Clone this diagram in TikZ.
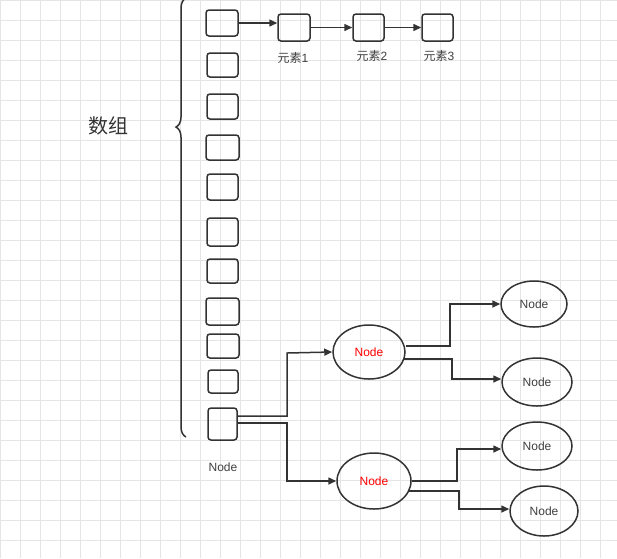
\documentclass[tikz,border=0pt]{standalone}
\usepackage{fontspec}
\setmainfont{Liberation Sans}
\newfontfamily\cjk{Noto Sans CJK SC}
\usetikzlibrary{decorations.pathreplacing,arrows.meta,shapes.geometric}
\begin{document}
\begin{tikzpicture}[x=1pt,y=-1pt,
  bx/.style={draw=black!80,line width=1.5pt,rounded corners=3pt,inner sep=0pt},
  el/.style={draw=black!80,line width=1.5pt,ellipse,inner sep=0pt,font=\fontsize{12}{14}\selectfont,text=black!75},
  ar/.style={draw=black!80,line width=1.5pt,-{Triangle[length=8pt,width=7pt]}},
  lb/.style={font=\fontsize{12}{14}\selectfont,text=black!75}]
\useasboundingbox (0,0) rectangle (617,558);
\fill[white] (0,0) rectangle (617,558);
\foreach \g in {0,20,...,600} \draw[black!10,line width=0.5pt] (\g,0) -- (\g,558);
\foreach \g in {0,20,...,540} \draw[black!10,line width=0.5pt] (0,\g) -- (617,\g);
% array boxes
\foreach \n/\xa/\ya/\xb/\yb in {1/206/10/238/36,2/207/53/238/77,3/207/94/238/119,4/206/135/239/160,5/207/174/238/200,6/207/218/238/246,7/207/259/238/283,8/206/298/239/325,9/207/334/239/358,10/208/370/238/393,11/208/408/237/440}
  \node[bx,minimum width=\xb-\xa,minimum height=\yb-\ya] (a\n) at ({(\xa+\xb)/2},{(\ya+\yb)/2}) {};
\node[bx,minimum width=32,minimum height=27] (e1) at (294,27.5) {};
\node[bx,minimum width=31,minimum height=27] (e2) at (368.5,27.5) {};
\node[bx,minimum width=31,minimum height=27] (e3) at (437.5,27.5) {};
\node[lb] (t1) at (293,58) {{\cjk 元素}1};
\node[lb] (t2) at (372,56) {{\cjk 元素}2};
\node[lb] (t3) at (439,56) {{\cjk 元素}3};
\draw[ar] (a1.east |- 0,23) -- (e1.west |- 0,23);
\draw[ar] (e1) -- (e2);
\draw[ar] (e2) -- (e3);
% brace
\coordinate (bt) at (186,-2);
\coordinate (bb) at (186,437);
\draw[black!80,line width=1.5pt,decorate,decoration={brace,amplitude=10pt,aspect=0.706}] (bb) -- (bt);
\node[font=\fontsize{20}{24}\selectfont,text=black!80] (arr) at (108,126) {{\cjk 数组}};
\node[lb] (nl) at (223,467) {Node};
% ellipses
\node[el,minimum width=72,minimum height=54,text=red] (r1) at (369,352) {Node};
\node[el,minimum width=74,minimum height=56,text=red] (r2) at (374,481) {Node};
\node[el,minimum width=66,minimum height=46] (n1) at (534,304) {Node};
\node[el,minimum width=70,minimum height=48] (n2) at (537,382) {Node};
\node[el,minimum width=70,minimum height=48] (n3) at (537,446) {Node};
\node[el,minimum width=68,minimum height=50] (n4) at (544,511) {Node};
\draw[ar] (a11.east |- 0,416) -| (287,353) -- (r1.west);
\draw[ar] (a11.east |- 0,423) -| (287,481) -- (r2.west);
\draw[ar] (r1.east |- 0,346) -| (450,304) -- (n1.west);
\draw[ar] (404,359) -| (452,379) -- (n2.west |- 0,379);
\draw[ar] (r2.east) -| (457,449) -- (n3.west |- 0,449);
\draw[ar] (408,491) -| (459,509) -- (n4.west |- 0,509);
\end{tikzpicture}
\end{document}
